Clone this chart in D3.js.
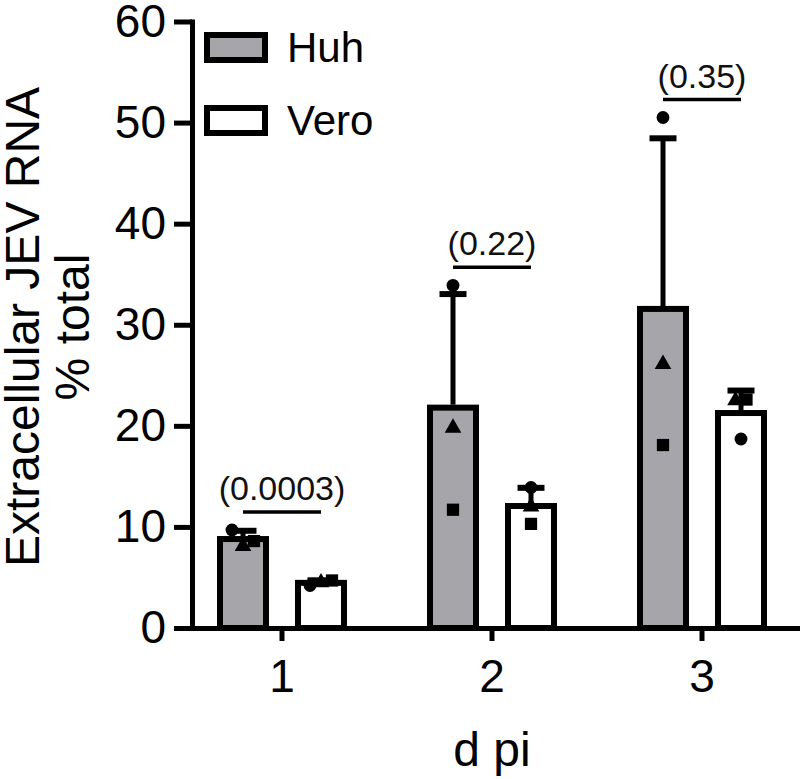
<!DOCTYPE html>
<html>
<head>
<meta charset="utf-8">
<script src="https://cdn.jsdelivr.net/npm/d3@7"></script>
<style>
  body { margin: 0; background: #fff; }
  svg { display: block; font-family: "Liberation Sans", Arial, sans-serif; }
</style>
</head>
<body>
<svg id="chart" width="800" height="779"></svg>
<script>
// data
const categories = ['1', '2', '3'];
const series = ['Huh', 'Vero'];
const huhCircle = [9.7, 33.9, 50.5];
const huhSquare = [8.6, 11.7, 18.1];
const huhTriangle = [8.1, 19.8, 26.1];
const veroCircle = [4.2, 13.9, 18.7];
const veroSquare = [4.7, 10.3, 22.6];
const veroTriangle = [4.5, 12.0, 22.5];
const pLabels = ['(0.0003)', '(0.22)', '(0.35)'];
const yTicks = [0, 10, 20, 30, 40, 50, 60];

const fills = { Huh: '#a5a5aa', Vero: '#ffffff' };
const points = {
  Huh: { square: huhSquare, circle: huhCircle, triangle: huhTriangle },
  Vero: { square: veroSquare, circle: veroCircle, triangle: veroTriangle }
};

const svg = d3.select('#chart');

const x = d3.scaleBand().domain(categories).range([177, 807]);
const xSub = d3.scaleBand().domain(series).range([-65, 65]).paddingInner(1 / 3);
const y = d3.scaleLinear().domain([0, 60]).range([628, 21.5]);

// build per-bar stats
const bars = [];
categories.forEach((c, i) => {
  series.forEach(s => {
    const vals = Object.keys(points[s]).map(k => ({ shape: k, value: points[s][k][i] }));
    const arr = vals.map(v => v.value);
    bars.push({
      cat: c, series: s, idx: i, vals,
      mean: d3.mean(arr), sd: d3.deviation(arr)
    });
  });
});

const cx = d => x(d.cat) + x.bandwidth() / 2 + xSub(d.series) + xSub.bandwidth() / 2;

// bars
const g = svg.append('g');
g.selectAll('rect.bar')
  .data(bars)
  .enter()
  .append('rect')
    .attr('class', 'bar')
    .attr('x', d => x(d.cat) + x.bandwidth() / 2 + xSub(d.series) + 3)
    .attr('width', xSub.bandwidth() - 6)
    .attr('y', d => y(d.mean))
    .attr('height', d => y(0) - y(d.mean))
    .attr('fill', d => fills[d.series])
    .attr('stroke', '#000')
    .attr('stroke-width', 6);

// error bars (upper only)
g.selectAll('line.err')
  .data(bars)
  .enter()
  .append('line')
    .attr('x1', cx).attr('x2', cx)
    .attr('y1', d => y(d.mean) - 3)
    .attr('y2', d => y(d.mean + d.sd))
    .attr('stroke', '#000')
    .attr('stroke-width', 5);

g.selectAll('line.cap')
  .data(bars)
  .enter()
  .append('line')
    .attr('x1', d => cx(d) - 13.5).attr('x2', d => cx(d) + 13.5)
    .attr('y1', d => y(d.mean + d.sd))
    .attr('y2', d => y(d.mean + d.sd))
    .attr('stroke', '#000')
    .attr('stroke-width', 6);

// points, spread sideways when they crowd together
const order = ['circle', 'triangle', 'square'];
const pts = [];
bars.forEach(b => {
  const sorted = b.vals.slice().sort((p, q) => q.value - p.value);
  const clusters = [];
  sorted.forEach(p => {
    const last = clusters[clusters.length - 1];
    if (last && Math.abs(y(last[last.length - 1].value) - y(p.value)) < 14) last.push(p);
    else clusters.push([p]);
  });
  clusters.forEach(cl => {
    cl.sort((p, q) => order.indexOf(p.shape) - order.indexOf(q.shape));
    cl.forEach((p, k) => {
      pts.push({ shape: p.shape, px: cx(b) + (k - (cl.length - 1) / 2) * 11, py: y(p.value) });
    });
  });
});

const sym = {
  circle: d3.symbol().type(d3.symbolCircle).size(130),
  square: d3.symbol().type(d3.symbolSquare).size(150),
  triangle: d3.symbol().type(d3.symbolTriangle).size(120)
};
g.selectAll('path.pt')
  .data(pts)
  .enter()
  .append('path')
    .attr('d', d => sym[d.shape]())
    .attr('transform', d => `translate(${d.px},${d.py})`)
    .attr('fill', '#000');

// axes
const xAxis = svg.append('g')
  .attr('transform', `translate(0,${y(0)})`)
  .call(d3.axisBottom(x).tickSize(13).tickSizeOuter(0).tickPadding(18));

const yAxis = svg.append('g')
  .attr('transform', 'translate(192,0)')
  .call(d3.axisLeft(y).tickValues(yTicks).tickSize(18).tickSizeOuter(0).tickPadding(8));

[xAxis, yAxis].forEach(a => {
  a.select('.domain').attr('stroke-width', 5).attr('stroke-linecap', 'square');
  a.selectAll('.tick line').attr('stroke-width', 5);
  a.selectAll('.tick text')
    .attr('fill', '#000')
    .style('font-size', '46px')
    .style('font-family', '"Liberation Sans", Arial, sans-serif');
});

// p-value brackets
const pGroup = svg.append('g');
categories.forEach((c, i) => {
  const bh = bars.find(b => b.cat === c && b.series === 'Huh');
  const bv = bars.find(b => b.cat === c && b.series === 'Vero');
  const top = d3.max([bh, bv], b => Math.max(b.mean + b.sd, d3.max(b.vals, v => v.value)));
  const ly = y(top) - 18;
  pGroup.append('line')
    .attr('x1', cx(bh)).attr('x2', cx(bv))
    .attr('y1', ly).attr('y2', ly)
    .attr('stroke', '#000')
    .attr('stroke-width', 3.5);
  pGroup.append('text')
    .attr('x', (cx(bh) + cx(bv)) / 2)
    .attr('y', ly - 12)
    .attr('text-anchor', 'middle')
    .style('font-size', '34px')
    .attr('fill', '#111')
    .text(pLabels[i]);
});

// legend
const legend = svg.append('g');
series.forEach((s, i) => {
  const ly = 35 + i * 73;
  legend.append('rect')
    .attr('x', 207).attr('y', ly)
    .attr('width', 58).attr('height', 25)
    .attr('fill', fills[s])
    .attr('stroke', '#000')
    .attr('stroke-width', 6);
  legend.append('text')
    .attr('x', 287).attr('y', ly + 12.5)
    .attr('dy', '0.35em')
    .style('font-size', '42px')
    .text(s);
});

// axis titles
svg.append('text')
  .attr('x', x('2') + x.bandwidth() / 2)
  .attr('y', 766)
  .attr('text-anchor', 'middle')
  .style('font-size', '48px')
  .text('d pi');

const yTitle = svg.append('text')
  .attr('transform', 'translate(0,327) rotate(-90)')
  .attr('text-anchor', 'middle')
  .style('font-size', '48px');
yTitle.append('tspan').attr('x', 0).attr('y', 39).text('Extracellular JEV RNA');
yTitle.append('tspan').attr('x', 0).attr('y', 89).text('% total');
</script>
</body>
</html>
